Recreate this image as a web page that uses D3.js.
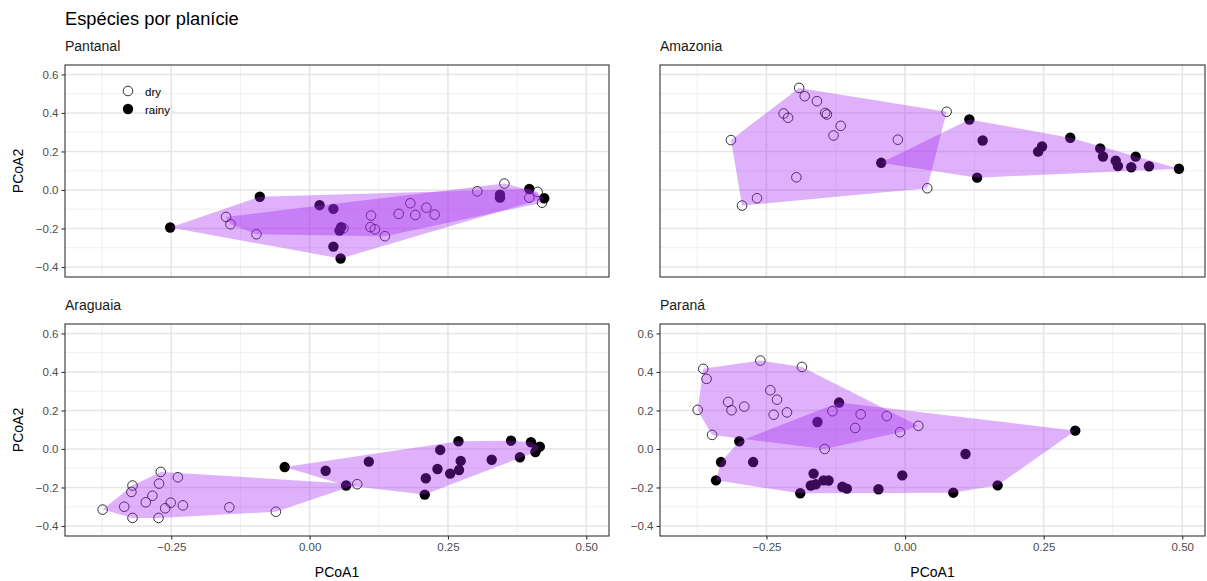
<!DOCTYPE html>
<html>
<head>
<meta charset="utf-8">
<script src="https://cdn.jsdelivr.net/npm/d3@7"></script>
<style>
  body { margin: 0; background: #fff; }
  svg { display: block; font-family: "Liberation Sans", Arial, sans-serif; }
</style>
</head>
<body>
<svg id="chart" width="1207" height="581"></svg>
<script>
// ---------------- DATA ----------------
const title = "Espécies por planície";
const panelNames = ["Pantanal", "Amazonia", "Araguaia", "Paraná"];
const seasons = ["dry", "rainy"];
const xTicks = [-0.25, 0.00, 0.25, 0.50];
const xTickLabels = ["−0.25", "0.00", "0.25", "0.50"];
const yTicks = [-0.4, -0.2, 0.0, 0.2, 0.4, 0.6];
const yTickLabels = ["−0.4", "−0.2", "0.0", "0.2", "0.4", "0.6"];
const xMinor = [-0.375, -0.125, 0.125, 0.375];
const yMinor = [-0.3, -0.1, 0.1, 0.3, 0.5];

const pantanalDry = [
  [-0.151, -0.140], [-0.143, -0.178], [-0.096, -0.230], [0.061, -0.199],
  [0.111, -0.133], [0.110, -0.193], [0.118, -0.204], [0.136, -0.240],
  [0.161, -0.124], [0.182, -0.069], [0.191, -0.130], [0.211, -0.092],
  [0.226, -0.128], [0.303, -0.007], [0.352, 0.033], [0.412, -0.010],
  [0.397, -0.040], [0.420, -0.066]
];
const pantanalRainy = [
  [-0.252, -0.195], [-0.090, -0.035], [0.018, -0.079], [0.043, -0.098],
  [0.043, -0.294], [0.056, -0.356], [0.057, -0.193], [0.054, -0.211],
  [0.344, -0.025], [0.344, -0.040], [0.397, 0.005], [0.424, -0.043]
];
const amazoniaDry = [
  [-0.191, 0.530], [-0.181, 0.487], [-0.159, 0.461], [-0.219, 0.397],
  [-0.211, 0.375], [-0.144, 0.400], [-0.141, 0.392], [-0.116, 0.333],
  [-0.129, 0.283], [-0.314, 0.259], [-0.013, 0.261], [-0.196, 0.066],
  [-0.267, -0.043], [-0.294, -0.081], [0.040, 0.009], [0.075, 0.406]
];
const amazoniaRainy = [
  [-0.043, 0.141], [0.116, 0.366], [0.140, 0.257], [0.130, 0.064],
  [0.240, 0.199], [0.247, 0.226], [0.298, 0.271], [0.352, 0.216],
  [0.357, 0.174], [0.380, 0.152], [0.384, 0.124], [0.416, 0.173],
  [0.408, 0.118], [0.440, 0.123], [0.494, 0.110]
];
const araguaiaDry = [
  [-0.374, -0.315], [-0.335, -0.300], [-0.320, -0.358], [-0.322, -0.223],
  [-0.320, -0.190], [-0.296, -0.277], [-0.284, -0.243], [-0.272, -0.180],
  [-0.269, -0.119], [-0.238, -0.147], [-0.261, -0.308], [-0.251, -0.279],
  [-0.229, -0.293], [-0.273, -0.358], [-0.145, -0.303], [-0.061, -0.326],
  [0.086, -0.183]
];
const araguaiaRainy = [
  [-0.045, -0.094], [0.029, -0.113], [0.066, -0.190], [0.107, -0.066],
  [0.208, -0.237], [0.210, -0.152], [0.231, -0.104], [0.236, -0.005],
  [0.254, -0.128], [0.270, -0.109], [0.273, -0.062], [0.269, 0.040],
  [0.329, -0.056], [0.364, 0.043], [0.380, -0.043], [0.400, 0.035],
  [0.408, -0.016], [0.416, 0.012], [0.411, 0.005]
];
const paranaDry = [
  [-0.364, 0.416], [-0.358, 0.364], [-0.261, 0.459], [-0.186, 0.426],
  [-0.374, 0.203], [-0.319, 0.244], [-0.313, 0.201], [-0.290, 0.220],
  [-0.243, 0.305], [-0.231, 0.256], [-0.237, 0.178], [-0.213, 0.190],
  [-0.348, 0.073], [-0.131, 0.196], [-0.080, 0.180], [-0.090, 0.109],
  [-0.033, 0.171], [-0.009, 0.087], [0.024, 0.120], [-0.145, 0.000]
];
const paranaRainy = [
  [-0.119, 0.241], [-0.158, 0.140], [-0.299, 0.040], [-0.332, -0.068],
  [-0.274, -0.068], [-0.341, -0.163], [-0.189, -0.230], [-0.165, -0.128],
  [-0.170, -0.190], [-0.161, -0.183], [-0.147, -0.163], [-0.138, -0.164],
  [-0.113, -0.196], [-0.105, -0.206], [-0.048, -0.209], [-0.005, -0.137],
  [0.109, -0.026], [0.167, -0.189], [0.087, -0.227], [0.307, 0.095]
];

// ---------------- LAYOUT ----------------
const svg = d3.select("#chart");
const xDomain = [-0.442, 0.541];
const yDomain = [-0.452, 0.649];
const cols = [[65, 609], [660, 1205]];
const rows = [[65, 277], [324, 536]];
const hullFill = "#a020f0";
const hullOpacity = 0.35;

const panels = [
  { name: panelNames[0], dry: pantanalDry, rainy: pantanalRainy, c: 0, r: 0, yLabels: true, xLabels: false, yTitle: true, xTitle: false, legend: true },
  { name: panelNames[1], dry: amazoniaDry, rainy: amazoniaRainy, c: 1, r: 0, yLabels: false, xLabels: false, yTitle: false, xTitle: false, legend: false },
  { name: panelNames[2], dry: araguaiaDry, rainy: araguaiaRainy, c: 0, r: 1, yLabels: true, xLabels: true, yTitle: true, xTitle: true, legend: false },
  { name: panelNames[3], dry: paranaDry, rainy: paranaRainy, c: 1, r: 1, yLabels: true, xLabels: true, yTitle: false, xTitle: true, legend: false }
];

svg.append("text")
  .attr("x", 65).attr("y", 25)
  .attr("font-size", 18.3).attr("fill", "#000")
  .text(title);

panels.forEach(p => {
  const x = d3.scaleLinear().domain(xDomain).range(cols[p.c]);
  const y = d3.scaleLinear().domain(yDomain).range([rows[p.r][1], rows[p.r][0]]);
  const g = svg.append("g");
  const [x0, x1] = cols[p.c];
  const [y0, y1] = rows[p.r];

  // strip title
  svg.append("text").attr("x", x0).attr("y", y0 - 14)
    .attr("font-size", 14).attr("fill", "#1a1a1a").text(p.name);

  // background
  g.append("rect").attr("x", x0).attr("y", y0).attr("width", x1 - x0).attr("height", y1 - y0)
    .attr("fill", "#fff");

  // minor grid
  g.selectAll(".xmin").data(xMinor).join("line")
    .attr("x1", d => x(d)).attr("x2", d => x(d)).attr("y1", y0).attr("y2", y1)
    .attr("stroke", "#ebebeb").attr("stroke-width", 0.8);
  g.selectAll(".ymin").data(yMinor).join("line")
    .attr("y1", d => y(d)).attr("y2", d => y(d)).attr("x1", x0).attr("x2", x1)
    .attr("stroke", "#ebebeb").attr("stroke-width", 0.8);
  // major grid
  g.selectAll(".xmaj").data(xTicks).join("line")
    .attr("x1", d => x(d)).attr("x2", d => x(d)).attr("y1", y0).attr("y2", y1)
    .attr("stroke", "#e6e6e6").attr("stroke-width", 1.6);
  g.selectAll(".ymaj").data(yTicks).join("line")
    .attr("y1", d => y(d)).attr("y2", d => y(d)).attr("x1", x0).attr("x2", x1)
    .attr("stroke", "#e6e6e6").attr("stroke-width", 1.6);

  // points
  const pts = g.append("g");
  pts.selectAll(".dry").data(p.dry).join("circle")
    .attr("cx", d => x(d[0])).attr("cy", d => y(d[1])).attr("r", 4.8)
    .attr("fill", "none").attr("stroke", "#000").attr("stroke-width", 0.8);
  pts.selectAll(".rainy").data(p.rainy).join("circle")
    .attr("cx", d => x(d[0])).attr("cy", d => y(d[1])).attr("r", 5.2)
    .attr("fill", "#000");

  // hulls on top
  [p.dry, p.rainy].forEach(series => {
    const hull = d3.polygonHull(series.map(d => [x(d[0]), y(d[1])]));
    g.append("path").attr("d", "M" + hull.join("L") + "Z")
      .attr("fill", hullFill).attr("fill-opacity", hullOpacity).attr("stroke", "none");
  });

  // border
  g.append("rect").attr("x", x0).attr("y", y0).attr("width", x1 - x0).attr("height", y1 - y0)
    .attr("fill", "none").attr("stroke", "#333333").attr("stroke-width", 1.1);

  // axes
  if (p.yLabels) {
    const ya = d3.axisLeft(y).tickValues(yTicks).tickFormat((d, i) => yTickLabels[i]).tickSize(3.5).tickPadding(3);
    const ag = svg.append("g").attr("transform", `translate(${x0},0)`).call(ya);
    ag.select(".domain").remove();
    ag.selectAll("line").attr("stroke", "#333333").attr("stroke-width", 1.1);
    ag.selectAll("text").attr("font-size", 11.5).attr("fill", "#4d4d4d").attr("font-family", "Liberation Sans, Arial, sans-serif");
  }
  if (p.xLabels) {
    const xa = d3.axisBottom(x).tickValues(xTicks).tickFormat((d, i) => xTickLabels[i]).tickSize(3.5).tickPadding(3);
    const ag = svg.append("g").attr("transform", `translate(0,${y1})`).call(xa);
    ag.select(".domain").remove();
    ag.selectAll("line").attr("stroke", "#333333").attr("stroke-width", 1.1);
    ag.selectAll("text").attr("font-size", 11.5).attr("fill", "#4d4d4d").attr("font-family", "Liberation Sans, Arial, sans-serif");
  }
  if (p.yTitle) {
    svg.append("text")
      .attr("transform", `translate(23,${(y0 + y1) / 2}) rotate(-90)`)
      .attr("text-anchor", "middle").attr("font-size", 14).attr("fill", "#000").text("PCoA2");
  }
  if (p.xTitle) {
    svg.append("text").attr("x", (x0 + x1) / 2).attr("y", 577)
      .attr("text-anchor", "middle").attr("font-size", 14).attr("fill", "#000").text("PCoA1");
  }
  if (p.legend) {
    const lg = svg.append("g");
    lg.append("circle").attr("cx", 128).attr("cy", 91).attr("r", 4.8)
      .attr("fill", "none").attr("stroke", "#000").attr("stroke-width", 0.8);
    lg.append("circle").attr("cx", 128).attr("cy", 109).attr("r", 5.2).attr("fill", "#000");
    lg.append("text").attr("x", 145).attr("y", 95.5).attr("font-size", 11.5).attr("fill", "#000").text(seasons[0]);
    lg.append("text").attr("x", 145).attr("y", 113.5).attr("font-size", 11.5).attr("fill", "#000").text(seasons[1]);
  }
});
</script>
</body>
</html>
